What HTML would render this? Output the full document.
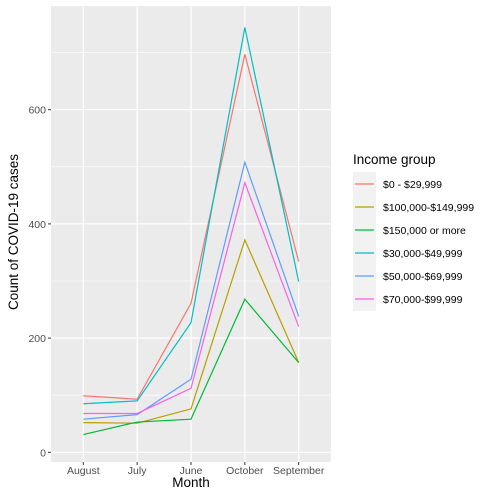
<!DOCTYPE html>
<html><head><style>body{margin:0;background:#fff}svg{display:block;font-family:"Liberation Sans",sans-serif}</style></head><body>
<svg id="c" width="500" height="497"></svg>
<script>
const categories=["August","July","June","October","September"];
const seriesNames=["$0 - $29,999","$100,000-$149,999","$150,000 or more","$30,000-$49,999","$50,000-$69,999","$70,000-$99,999"];
const colors=["#F8766D","#B79F00","#00BA38","#00BFC4","#619CFF","#F564E3"];
const s0=[99,93,261,697,334];
const s1=[52,51,76,372,157];
const s2=[31,53,58,268,157];
const s3=[85,90,227,744,299];
const s4=[58,66,128,508,238];
const s5=[68,68,112,472,220];
const series=[s0,s1,s2,s3,s4,s5];
const yTicks=[0,200,400,600];
const yMinor=[100,300,500,700];
const NS="http://www.w3.org/2000/svg";
const svg=document.getElementById('c');
const L=51,R=331,T=6,B=462;
const x=i=>L+(i+0.6)*(R-L)/5.2;
const y=v=>452.3-v*0.571;
function el(t,a,p){const e=document.createElementNS(NS,t);for(const k in a)e.setAttribute(k,a[k]);(p||svg).appendChild(e);return e;}
const panel=el('rect',{x:L,y:T,width:R-L,height:B-T,fill:'#EBEBEB'});


yMinor.forEach(v=>{const g=el('line',{x1:L,x2:R,y1:y(v),y2:y(v),stroke:'#fff','stroke-width':0.6});

});
yTicks.forEach(v=>{const g=el('line',{x1:L,x2:R,y1:y(v),y2:y(v),stroke:'#fff','stroke-width':1.2});


const tk=el('line',{x1:L-3,x2:L,y1:y(v),y2:y(v),stroke:'#333','stroke-width':1});


const t=el('text',{x:L-5,y:y(v)+4,'text-anchor':'end','font-size':'10.5',fill:'#4D4D4D'});t.textContent=v;

});
categories.forEach((c,i)=>{const g=el('line',{x1:x(i),x2:x(i),y1:T,y2:B,stroke:'#fff','stroke-width':1.2});


const tk=el('line',{x1:x(i),x2:x(i),y1:B,y2:B+3,stroke:'#333','stroke-width':1});


const t=el('text',{x:x(i),y:B+12,'text-anchor':'middle','font-size':'10.5',fill:'#4D4D4D'});t.textContent=c;

});
series.forEach((s,k)=>{const p=el('polyline',{points:s.map((v,i)=>x(i)+','+y(v)).join(' '),fill:'none',stroke:colors[k],'stroke-width':1.2});

});
let t=el('text',{x:191,y:487,'text-anchor':'middle','font-size':'13.5',fill:'#000'});t.textContent='Month';


t=el('text',{x:0,y:0,'text-anchor':'middle','font-size':'13.5',fill:'#000',transform:'translate(18,232) rotate(-90)'});t.textContent='Count of COVID-19 cases';


t=el('text',{x:353,y:164,'font-size':'13.5',fill:'#000'});t.textContent='Income group';


const kb=el('rect',{x:353,y:172,width:23,height:139,fill:'#F2F2F2'});


seriesNames.forEach((n,k)=>{const yy=184+k*23;
const ln=el('line',{x1:355,x2:374,y1:yy,y2:yy,stroke:colors[k],'stroke-width':1.2});


const tx=el('text',{x:383,y:yy+4,'font-size':'10.5',fill:'#000'});tx.textContent=n;

});
</script></body></html>
